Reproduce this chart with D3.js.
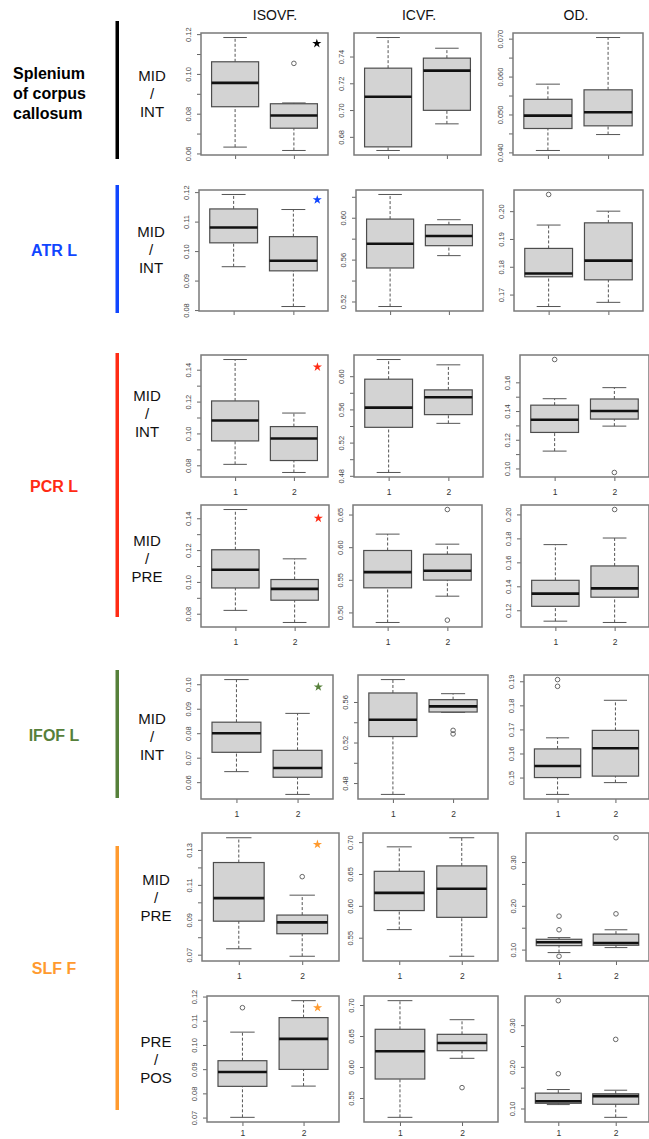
<html>
  <body>
    <style>
      body { margin: 0; background: #fff; }
      svg { font-family: "Liberation Sans", Arial, Helvetica, sans-serif; }
      .frame { fill: none; stroke: #7a7a7a; stroke-width: 1.5px; }
      .box { fill: #d3d3d3; stroke: #4d4d4d; stroke-width: 1.2px; }
      .median { stroke: #111; stroke-width: 2.6px; }
      .whisker { stroke: #555; stroke-width: 1px; stroke-dasharray: 3,2; }
      .staple { stroke: #555; stroke-width: 1px; }
      .outlier { fill: none; stroke: #666; stroke-width: 1px; }
      .yaxis line, .xaxis line { stroke: #666; }
      .yaxis text { fill: #444; font-size: 7.5px; }
      .xaxis text { fill: #333; font-size: 8.5px; }
      .domain { display: none; }
    </style>
    <script src="https://d3js.org/d3.v7.min.js"></script>
    <script type="text/javascript">
      // ---- data ----
      var measures = ["ISOVF.", "ICVF.", "OD."];
      var groups = [1, 2];
      var tracts = [["Splenium", "of corpus", "callosum"], ["ATR L"], ["PCR L"], ["IFOF L"], ["SLF F"]];
      var tractColors = ["#000000", "#1046ff", "#ff2b14", "#56803a", "#ff9a2e"];
      var rowTract = [0, 1, 2, 2, 3, 4, 4];
      var comparisons = [["MID", "/", "INT"], ["MID", "/", "INT"], ["MID", "/", "INT"], ["MID", "/", "PRE"],
                         ["MID", "/", "INT"], ["MID", "/", "PRE"], ["PRE", "/", "POS"]];

      // [lower whisker, Q1, median, Q3, upper whisker] for group 1 and group 2, one entry per row
      var isovfStats = [
        [[0.0632, 0.0835, 0.0955, 0.1061, 0.1183], [0.0615, 0.0727, 0.0791, 0.0850, 0.0854]],
        [[0.0947, 0.1028, 0.1080, 0.1143, 0.1192], [0.0812, 0.0933, 0.0967, 0.1049, 0.1141]],
        [[0.0806, 0.0953, 0.1081, 0.1204, 0.1464], [0.0755, 0.0830, 0.0968, 0.1043, 0.1128]],
        [[0.0821, 0.0962, 0.1076, 0.1202, 0.1455], [0.0745, 0.0885, 0.0956, 0.1015, 0.1145]],
        [[0.0643, 0.0722, 0.0800, 0.0845, 0.1019], [0.0550, 0.0620, 0.0658, 0.0730, 0.0881]],
        [[0.0734, 0.0892, 0.1024, 0.1228, 0.1370], [0.0691, 0.0820, 0.0885, 0.0927, 0.1041]],
        [[0.0701, 0.0829, 0.0888, 0.0935, 0.1053], [0.0830, 0.0899, 0.1025, 0.1113, 0.1183]]
      ];
      var isovfOutliers = [
        [[], [0.1053]], [[], []], [[], []], [[], []], [[], []], [[], [0.1147]], [[0.1154], []]
      ];
      var isovfTicks = [
        ["0.06", "0.08", "0.10", "0.12"], ["0.08", "0.09", "0.10", "0.11", "0.12"],
        ["0.08", "0.10", "0.12", "0.14"], ["0.08", "0.10", "0.12", "0.14"],
        ["0.06", "0.07", "0.08", "0.09", "0.10"], ["0.07", "0.09", "0.11", "0.13"],
        ["0.07", "0.08", "0.09", "0.10", "0.11", "0.12"]
      ];
      var isovfMinor = [[0.07, 0.09, 0.11], [], [0.09, 0.11, 0.13], [0.09, 0.11, 0.13], [], [0.08, 0.10, 0.12], []];
      // significance stars (group position, value)
      var stars = [[2.39, 0.1153], [2.4, 0.1174], [2.4, 0.1417], [2.4, 0.1400], [2.34, 0.0989], [2.24, 0.1332], [2.23, 0.1154]];

      var icvfStats = [
        [[0.6698, 0.6725, 0.7100, 0.7313, 0.7542], [0.6897, 0.6998, 0.7295, 0.7388, 0.7462]],
        [[0.5152, 0.5520, 0.5752, 0.5987, 0.6222], [0.5638, 0.5733, 0.5826, 0.5933, 0.5981]],
        [[0.4840, 0.5384, 0.5621, 0.5964, 0.6201], [0.5432, 0.5537, 0.5746, 0.5835, 0.6137]],
        [[0.4846, 0.5377, 0.5618, 0.5949, 0.6200], [0.5249, 0.5495, 0.5638, 0.5892, 0.6046]],
        [[0.4688, 0.5259, 0.5425, 0.5689, 0.5821], [0.5498, 0.5501, 0.5557, 0.5623, 0.5682]],
        [[0.5627, 0.5926, 0.6204, 0.6542, 0.6926], [0.5209, 0.5820, 0.6268, 0.6627, 0.7069]],
        [[0.5188, 0.5806, 0.6253, 0.6608, 0.7070], [0.6140, 0.6263, 0.6387, 0.6527, 0.6763]]
      ];
      var icvfOutliers = [
        [[], []], [[], []], [[], []], [[], [0.6577, 0.4882]], [[], [0.5320, 0.5285]], [[], []], [[], [0.5667]]
      ];
      var icvfTicks = [
        ["0.68", "0.70", "0.72", "0.74"], ["0.52", "0.56", "0.60"], ["0.48", "0.52", "0.56", "0.60"],
        ["0.50", "0.55", "0.60", "0.65"], ["0.48", "0.52", "0.56"], ["0.55", "0.60", "0.65", "0.70"],
        ["0.55", "0.60", "0.65", "0.70"]
      ];
      var icvfMinor = [[], [0.54, 0.58, 0.62], [0.50, 0.54, 0.58], [], [0.50, 0.54], [], []];

      var odStats = [
        [[0.0405, 0.0463, 0.0497, 0.0540, 0.0580], [0.0447, 0.0470, 0.0506, 0.0565, 0.0703]],
        [[0.1657, 0.1764, 0.1776, 0.1866, 0.1950], [0.1672, 0.1753, 0.1822, 0.1958, 0.2000]],
        [[0.1121, 0.1251, 0.1339, 0.1441, 0.1486], [0.1295, 0.1344, 0.1400, 0.1484, 0.1563]],
        [[0.1109, 0.1233, 0.1339, 0.1450, 0.1748], [0.1098, 0.1309, 0.1383, 0.1570, 0.1803]],
        [[0.1430, 0.1500, 0.1548, 0.1619, 0.1665], [0.1479, 0.1506, 0.1622, 0.1696, 0.1821]],
        [[0.0932, 0.1091, 0.1167, 0.1236, 0.1274], [0.1046, 0.1099, 0.1152, 0.1354, 0.1453]],
        [[0.1094, 0.1125, 0.1173, 0.1369, 0.1455], [0.0788, 0.1102, 0.1298, 0.1353, 0.1439]]
      ];
      var odOutliers = [
        [[], []], [[0.2060], []], [[0.1759], [0.0972]], [[], [0.2041]], [[0.1907, 0.1879], []],
        [[0.1764, 0.1453, 0.0848], [0.3555, 0.1817]], [[0.3588, 0.1835], [0.2659]]
      ];
      var odTicks = [
        ["0.040", "0.050", "0.060", "0.070"], ["0.17", "0.18", "0.19", "0.20"], ["0.10", "0.12", "0.14", "0.16"],
        ["0.12", "0.14", "0.16", "0.18", "0.20"], ["0.15", "0.16", "0.17", "0.18", "0.19"],
        ["0.10", "0.20", "0.30"], ["0.10", "0.20", "0.30"]
      ];
      var odMinor = [[0.045, 0.055, 0.065], [], [0.11, 0.13, 0.15], [], [], [0.15, 0.25], [0.15, 0.25]];

      // ---- layout ----
      var W = 649, H = 1139;
      var panelTop = [33, 190, 355, 505, 675, 833, 996];
      var panelBottom = [155, 311, 477, 627, 799, 961, 1122];
      var panelX = [
        [[201, 328], [354, 481], [513, 643]],
        [[199, 328], [356, 483], [514, 643]],
        [[201, 328], [354, 483], [520, 649]],
        [[201, 329], [353, 482], [521, 649]],
        [[201, 333], [358, 488], [524, 649]],
        [[202, 339], [363, 498], [526, 649]],
        [[207, 339], [364, 498], [525, 649]]
      ];
      var xLabelOffset = [12, 12, 12, 12, 12, 12, 8];
      var headerX = [275, 419, 576];
      var compX = [152, 151, 147, 147, 152, 156, 156];
      var compY = [94, 250, 414, 559, 737, 898, 1060];
      var barY = [[21, 159], [185, 313], [353, 617], [670, 798], [846, 1110]];
      var tractLabelY = [93, 250, 486, 735, 968];

      var svg = d3.select("body").append("svg")
        .attr("width", W)
        .attr("height", H);

      // column headers
      svg.selectAll(".header")
        .data(measures)
        .enter().append("text")
        .attr("x", function(d, i) { return headerX[i]; })
        .attr("y", 20)
        .attr("text-anchor", "middle")
        .style("font-size", "14px")
        .style("fill", "#111")
        .text(function(d) { return d; });

      // tract bars and names
      tracts.forEach(function(t, i) {
        svg.append("rect")
          .attr("x", 115.5)
          .attr("y", barY[i][0])
          .attr("width", 3.5)
          .attr("height", barY[i][1] - barY[i][0])
          .attr("fill", tractColors[i]);

        var txt = svg.append("text")
          .style("font-size", "16px")
          .style("font-weight", "bold")
          .style("fill", i == 0 ? "#000" : tractColors[i]);
        if (t.length > 1) {
          t.forEach(function(line, k) {
            txt.append("tspan")
              .attr("x", 13)
              .attr("y", tractLabelY[i] + 6 + (k - 1) * 20)
              .text(line);
          });
        } else {
          txt.attr("x", 54).attr("y", tractLabelY[i] + 6)
            .attr("text-anchor", "middle")
            .text(t[0]);
        }
      });

      // comparison labels
      comparisons.forEach(function(c, r) {
        var txt = svg.append("text")
          .attr("text-anchor", "middle")
          .style("font-size", "15px")
          .style("fill", "#111");
        c.forEach(function(line, k) {
          txt.append("tspan")
            .attr("x", compX[r])
            .attr("y", compY[r] + 5 + (k - 1) * 18)
            .text(line);
        });
      });

      function drawPanel(r, c, stats, outliers, ticks, minor, star) {
        var left = panelX[r][c][0], right = panelX[r][c][1];
        var top = panelTop[r], bottom = panelBottom[r];
        var g = svg.append("g");

        var all = [].concat(stats[0], stats[1], outliers[0], outliers[1]);
        var ext = d3.extent(all);
        var pad = (ext[1] - ext[0]) * 0.04;

        var x = d3.scaleLinear().domain([0.42, 2.58]).range([left, right]);
        var y = d3.scaleLinear().domain([ext[0] - pad, ext[1] + pad]).range([bottom, top]);

        // y axis, labelled ticks then unlabelled ones
        var ya = g.append("g")
          .attr("class", "yaxis")
          .attr("transform", "translate(" + left + ",0)")
          .call(d3.axisLeft(y)
            .tickValues(ticks.map(Number))
            .tickFormat(function(d, i) { return ticks[i]; })
            .tickSize(4));
        ya.selectAll("text")
          .attr("transform", "rotate(-90)")
          .attr("x", 0)
          .attr("y", -10)
          .attr("dy", 0)
          .style("text-anchor", "middle");

        g.append("g")
          .attr("class", "yaxis")
          .attr("transform", "translate(" + left + ",0)")
          .call(d3.axisLeft(y)
            .tickValues(minor)
            .tickFormat("")
            .tickSize(4));

        var xa = g.append("g")
          .attr("class", "xaxis")
          .attr("transform", "translate(0," + bottom + ")")
          .call(d3.axisBottom(x)
            .tickValues(groups)
            .tickFormat(r >= 2 ? d3.format("d") : "")
            .tickSize(4));
        xa.selectAll("text").attr("y", xLabelOffset[r]);

        stats.forEach(function(s, i) {
          var cx = groups[i];
          g.append("line").attr("class", "whisker")
            .attr("x1", x(cx)).attr("x2", x(cx))
            .attr("y1", y(s[3])).attr("y2", y(s[4]));
          g.append("line").attr("class", "whisker")
            .attr("x1", x(cx)).attr("x2", x(cx))
            .attr("y1", y(s[0])).attr("y2", y(s[1]));
          [s[0], s[4]].forEach(function(v) {
            g.append("line").attr("class", "staple")
              .attr("x1", x(cx - 0.2)).attr("x2", x(cx + 0.2))
              .attr("y1", y(v)).attr("y2", y(v));
          });
          g.append("rect").attr("class", "box")
            .attr("x", x(cx - 0.4))
            .attr("width", x(cx + 0.4) - x(cx - 0.4))
            .attr("y", y(s[3]))
            .attr("height", y(s[1]) - y(s[3]));
          g.append("line").attr("class", "median")
            .attr("x1", x(cx - 0.4)).attr("x2", x(cx + 0.4))
            .attr("y1", y(s[2])).attr("y2", y(s[2]));
          g.selectAll(".out" + i)
            .data(outliers[i])
            .enter().append("circle")
            .attr("class", "outlier")
            .attr("cx", x(cx))
            .attr("cy", function(d) { return y(d); })
            .attr("r", 2.3);
        });

        if (star) {
          g.append("path")
            .attr("d", d3.symbol().type(d3.symbolStar).size(26))
            .attr("transform", "translate(" + x(star[0]) + "," + y(star[1]) + ")")
            .attr("fill", tractColors[rowTract[r]]);
        }

        g.append("rect").attr("class", "frame")
          .attr("x", left).attr("y", top)
          .attr("width", right - left).attr("height", bottom - top);
      }

      for (var r = 0; r < 7; r++) {
        drawPanel(r, 0, isovfStats[r], isovfOutliers[r], isovfTicks[r], isovfMinor[r], stars[r]);
        drawPanel(r, 1, icvfStats[r], icvfOutliers[r], icvfTicks[r], icvfMinor[r], null);
        drawPanel(r, 2, odStats[r], odOutliers[r], odTicks[r], odMinor[r], null);
      }
    </script>
  </body>
</html>
